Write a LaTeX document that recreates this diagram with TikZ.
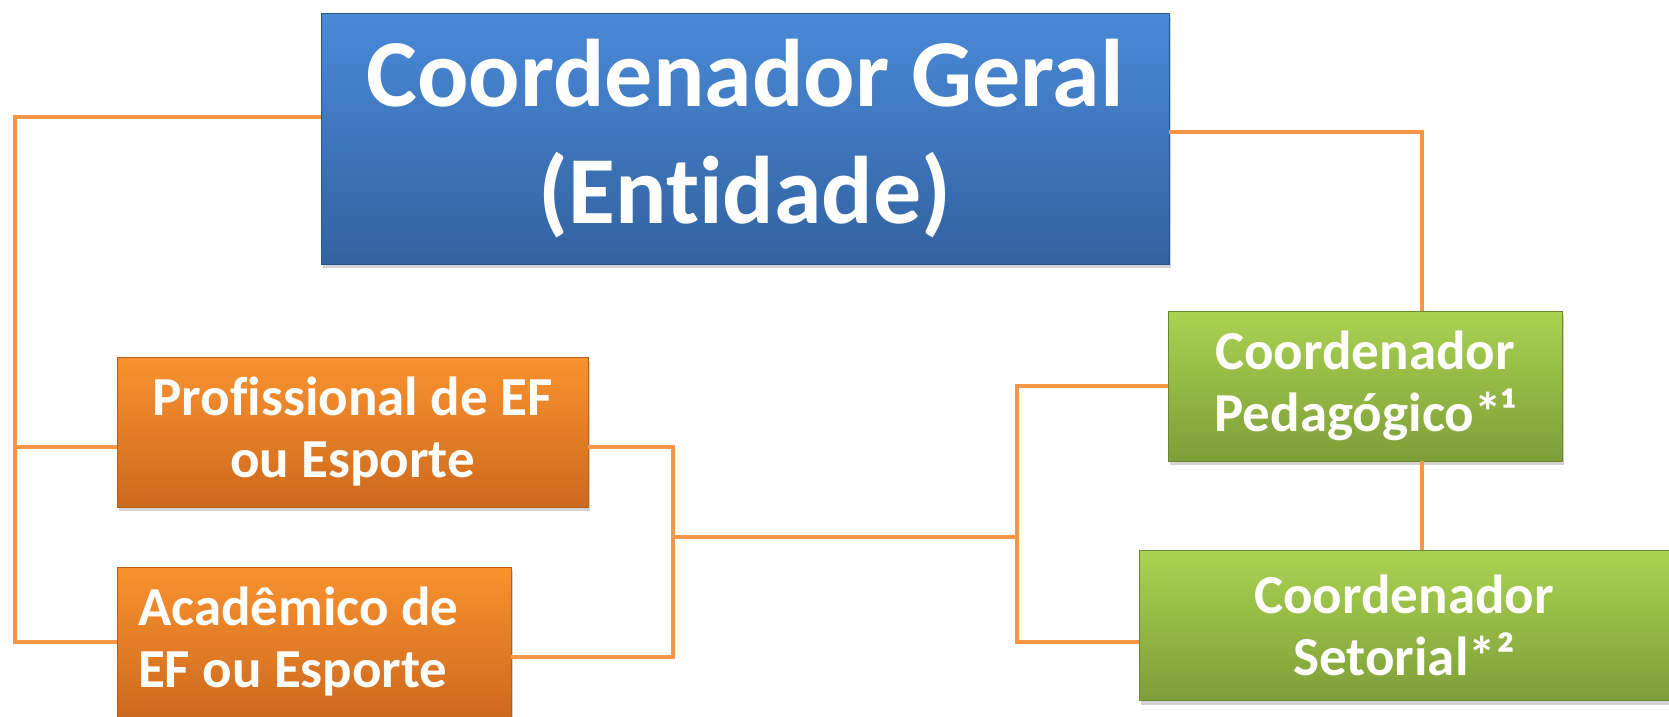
\documentclass[tikz,border=0pt]{standalone}
\usepackage{fontspec}
\setmainfont{Carlito}[Ligatures=NoCommon]
\usetikzlibrary{calc,shadows}
\definecolor{blueTop}{HTML}{4A8AD8}
\definecolor{blueBot}{HTML}{3262A0}
\definecolor{orangeTop}{HTML}{F9922E}
\definecolor{orangeBot}{HTML}{CD691E}
\definecolor{greenTop}{HTML}{AAD352}
\definecolor{greenBot}{HTML}{7E9E38}
\definecolor{linkOrange}{HTML}{F79646}
\tikzset{
	box/.style={rectangle, inner sep=0pt, align=center, text=white, line width=0.8pt, drop shadow={shadow xshift=2pt, shadow yshift=-4pt, opacity=0.35}},
	geralbox/.style={box, top color=blueTop, bottom color=blueBot, draw=blueBot!85!black, minimum width=848pt, minimum height=251pt, font=\bfseries\fontsize{96}{117}\selectfont},
	orangebox/.style={box, top color=orangeTop, bottom color=orangeBot, draw=orangeBot!90!black, minimum width=471pt, minimum height=150pt, font=\bfseries\fontsize{55}{62}\selectfont},
	greenbox/.style={box, top color=greenTop, bottom color=greenBot, draw=greenBot!85!black, minimum height=150pt, font=\bfseries\fontsize{55}{62}\selectfont},
	link/.style={line width=4pt, color=linkOrange}
}

\begin{document}
\begin{tikzpicture}[x=1pt, y=-1pt]
		%%%%% START %%%%%
		
		\useasboundingbox (0, 0) rectangle (1669, 716);
		
		\node[geralbox] (geral) at (745, 138.5) {Coordenador Geral\\(Entidade)};
		
		\node[orangebox] (prof) at (352.5, 432) {Profissional de EF\\ou Esporte};
		\node[orangebox, minimum width=394pt, text width=352pt, inner xsep=21pt, align=flush left] (acad) at (314, 642) {Acadêmico de\\EF ou Esporte};
		
		\node[greenbox, minimum width=394pt] (peda) at (1365, 386) {Coordenador\\Pedagógico*¹};
		\node[greenbox, minimum width=530pt] (seto) at (1404, 625.5) {Coordenador\\Setorial*²};
		
		% left bus
		\coordinate (lt) at (15, 117);
		\coordinate (lm) at (15, 447);
		\coordinate (lb) at (15, 642);
		\draw[link] (geral.west |- lt) -- (lt) -- (lb) -- (acad.west |- lb);
		\draw[link] (lm) -- (prof.west |- lm);
		
		% middle bus
		\coordinate (ma) at (673, 447);
		\coordinate (mb) at (673, 657);
		\coordinate (mc) at (673, 537);
		\coordinate (md) at (1017, 537);
		\coordinate (me) at (1017, 386);
		\coordinate (mf) at (1017, 642);
		\draw[link] (prof.east |- ma) -- (ma) -- (mb) -- (acad.east |- mb);
		\draw[link] (mc) -- (md);
		\draw[link] (peda.west |- me) -- (me) -- (mf) -- (seto.west |- mf);
		
		% right bus
		\coordinate (rt) at (1422, 132);
		\draw[link] (geral.east |- rt) -- (rt) -- (rt |- peda.north);
		\draw[link] (rt |- peda.south) -- (rt |- seto.north);
		
		%%%%% END %%%%%
	\end{tikzpicture}
\end{document}
